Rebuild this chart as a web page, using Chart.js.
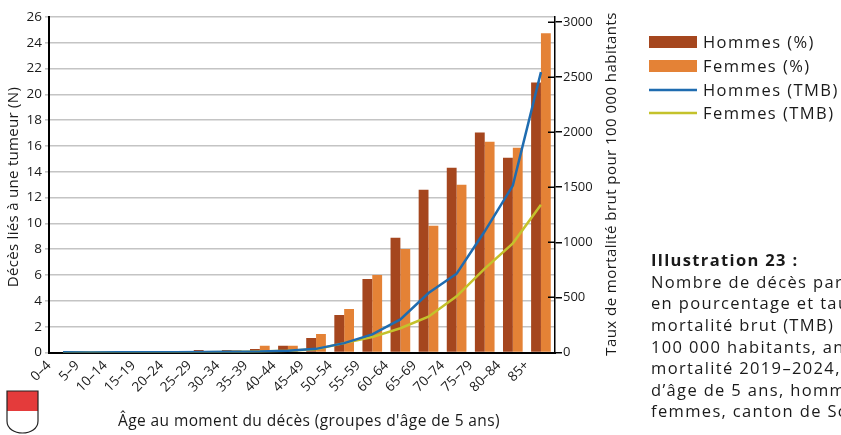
<!DOCTYPE html>
<html>
<head>
<meta charset="utf-8">
<script src="https://cdn.jsdelivr.net/npm/chart.js@4/dist/chart.umd.min.js"></script>
<style>
  html, body { margin: 0; padding: 0; background: #fff; overflow: hidden; }
  #wrap { position: relative; width: 841px; height: 435px; }
  canvas { display: block; }
</style>
</head>
<body>
<div id="wrap"><canvas id="c" width="841" height="435"></canvas></div>
<script>
// Age groups (5-year bands)
const ageGroups = ['0–4', '5–9', '10–14', '15–19', '20–24', '25–29', '30–34', '35–39', '40–44',
                   '45–49', '50–54', '55–59', '60–64', '65–69', '70–74', '75–79', '80–84', '85+'];

// Share of tumour deaths per age group (%)
const hommesPct = [0.05, 0, 0.07, 0, 0.05, 0.19, 0.19, 0.27, 0.53, 1.13, 2.91, 5.70, 8.89, 12.61, 14.32, 17.04, 15.10, 20.92];
const femmesPct = [0.12, 0.05, 0, 0.03, 0.03, 0.05, 0.17, 0.53, 0.53, 1.44, 3.38, 6.01, 8.03, 9.82, 13.00, 16.34, 15.87, 24.74];

// Crude mortality rate per 100 000 inhabitants
const hommesTMB = [3, 1, 2, 2, 3, 4, 6, 8, 16, 33, 85, 165, 300, 540, 715, 1100, 1515, 2545];
const femmesTMB = [3, 1, 1, 1, 2, 3, 5, 10, 15, 30, 85, 140, 220, 325, 510, 762, 991, 1340];

// Axis ticks
const leftMax = 26;
const leftStep = 2;
const rightTicks = [0, 500, 1000, 1500, 2000, 2500, 3000];

// Texts
const seriesLabels = ['Hommes (%)', 'Femmes (%)', 'Hommes (TMB)', 'Femmes (TMB)'];
const leftTitle = 'Décès liés à une tumeur (N)';
const rightTitle = 'Taux de mortalité brut pour 100 000 habitants';
const xTitle = "Âge au moment du décès (groupes d'âge de 5 ans)";
const captionTitle = 'Illustration 23 :';
const captionLines = [
  "Nombre de décès par groupe d'âge",
  'en pourcentage et taux de',
  'mortalité brut (TMB) pour',
  '100 000 habitants, années de',
  'mortalité 2019–2024, groupes',
  "d’âge de 5 ans, hommes et",
  'femmes, canton de Soleure'
];

const FONT = "'Open Sans', 'Noto Sans', sans-serif";
const TEXT = '#1a1a1a';
const colors = {
  hommesBar: '#A5461E',
  femmesBar: '#E48236',
  hommesLine: '#1F6CB0',
  femmesLine: '#C4C22B'
};

const decor = {
  id: 'decor',
  afterDraw(chart) {
    const ctx = chart.ctx;
    const area = chart.chartArea;
    const y2 = chart.scales.y2;

    ctx.save();
    // inward half of the right-axis tick marks
    ctx.strokeStyle = '#000';
    ctx.lineWidth = 1.5;
    y2.ticks.forEach(t => {
      const py = Math.round(y2.getPixelForValue(t.value)) + 0.25;
      ctx.beginPath();
      ctx.moveTo(area.right - 7, py);
      ctx.lineTo(area.right, py);
      ctx.stroke();
    });

    ctx.fillStyle = TEXT;
    ctx.textAlign = 'center';
    ctx.textBaseline = 'middle';

    // left axis title
    ctx.font = `15px ${FONT}`;
    ctx.letterSpacing = '0.3px';
    ctx.save();
    ctx.translate(14, 187);
    ctx.rotate(-Math.PI / 2);
    ctx.fillText(leftTitle, 0, 0);
    ctx.restore();

    // right axis title (reads bottom to top)
    ctx.letterSpacing = '0.45px';
    ctx.save();
    ctx.translate(612, 184);
    ctx.rotate(-Math.PI / 2);
    ctx.fillText(rightTitle, 0, 0);
    ctx.restore();

    // x axis title
    ctx.font = `15.5px ${FONT}`;
    ctx.letterSpacing = '0.4px';
    ctx.fillText(xTitle, 309, 422);

    // legend, built from the datasets
    ctx.textAlign = 'left';
    ctx.font = `16.5px ${FONT}`;
    ctx.letterSpacing = '1.45px';
    const rows = [42, 66, 90, 113];
    chart.data.datasets.forEach((ds, i) => {
      const y = rows[i];
      if (ds.type === 'line') {
        ctx.strokeStyle = ds.borderColor;
        ctx.lineWidth = 2.5;
        ctx.beginPath();
        ctx.moveTo(649, y);
        ctx.lineTo(697, y);
        ctx.stroke();
      } else {
        ctx.fillStyle = ds.backgroundColor;
        ctx.fillRect(649, y - 6, 48, 12);
      }
      ctx.fillStyle = TEXT;
      ctx.fillText(ds.label, 703, y + 1);
    });

    // caption
    ctx.letterSpacing = '1.35px';
    ctx.font = `bold 16.5px ${FONT}`;
    ctx.fillText(captionTitle, 651, 261);
    ctx.font = `16.5px ${FONT}`;
    captionLines.forEach((line, i) => {
      ctx.fillText(line, 651, 283 + i * 21.6);
    });
    ctx.letterSpacing = '0px';

    // canton shield
    const sx = 7, sw = 31, top = 391, mid = 411, bottom = 433;
    ctx.beginPath();
    ctx.moveTo(sx, top);
    ctx.lineTo(sx + sw, top);
    ctx.lineTo(sx + sw, bottom - 12);
    ctx.bezierCurveTo(sx + sw, bottom - 4, sx + sw * 0.75, bottom, sx + sw / 2, bottom);
    ctx.bezierCurveTo(sx + sw * 0.25, bottom, sx, bottom - 4, sx, bottom - 12);
    ctx.closePath();
    ctx.fillStyle = '#fff';
    ctx.fill();
    ctx.save();
    ctx.clip();
    ctx.fillStyle = '#E43B3B';
    ctx.fillRect(sx, top, sw, mid - top);
    ctx.restore();
    ctx.strokeStyle = '#222';
    ctx.lineWidth = 1.2;
    ctx.stroke();

    ctx.restore();
  }
};

new Chart(document.getElementById('c'), {
  data: {
    labels: ageGroups,
    datasets: [
      { type: 'bar', label: seriesLabels[0], data: hommesPct, yAxisID: 'y', backgroundColor: colors.hommesBar,
        barPercentage: 1, categoryPercentage: 0.7, order: 1 },
      { type: 'bar', label: seriesLabels[1], data: femmesPct, yAxisID: 'y', backgroundColor: colors.femmesBar,
        barPercentage: 1, categoryPercentage: 0.7, order: 1 },
      { type: 'line', label: seriesLabels[2], data: hommesTMB, yAxisID: 'y2', borderColor: colors.hommesLine,
        borderWidth: 2.5, pointRadius: 0, tension: 0, fill: false, order: 0 },
      { type: 'line', label: seriesLabels[3], data: femmesTMB, yAxisID: 'y2', borderColor: colors.femmesLine,
        borderWidth: 2.5, pointRadius: 0, tension: 0, fill: false, order: 0 }
    ]
  },
  options: {
    responsive: false,
    animation: false,
    devicePixelRatio: 1,
    layout: { padding: { top: 17, left: 0, right: 0, bottom: 0 } },
    plugins: { legend: { display: false }, tooltip: { enabled: false } },
    scales: {
      x: {
        type: 'category',
        offset: true,
        grid: { display: false, drawTicks: false },
        border: { display: true, color: '#000', width: 2 },
        ticks: { autoSkip: false, maxRotation: 45, minRotation: 45, color: TEXT,
                 font: { family: FONT, size: 13.5 }, padding: 5, labelOffset: -14 },
        afterFit(s) { s.height = 82.5; }
      },
      y: {
        position: 'left',
        min: 0, max: leftMax,
        ticks: { stepSize: leftStep, color: TEXT, font: { family: FONT, size: 13.5 }, padding: 3 },
        grid: { color: '#c4c4c4', lineWidth: 1.6, tickLength: 4 },
        border: { color: '#000', width: 2 },
        afterFit(s) { s.width = 49; }
      },
      y2: {
        position: 'right',
        min: 0, max: 3045,
        afterBuildTicks(s) { s.ticks = rightTicks.map(v => ({ value: v })); },
        ticks: { color: TEXT, font: { family: FONT, size: 13 }, padding: 1,
                 callback: v => String(v) },
        grid: { drawOnChartArea: false, color: '#000', lineWidth: 1.5, tickLength: 7 },
        border: { color: '#000', width: 1.5 },
        afterFit(s) { s.width = 286; }
      }
    }
  },
  plugins: [decor]
});
</script>
</body>
</html>
